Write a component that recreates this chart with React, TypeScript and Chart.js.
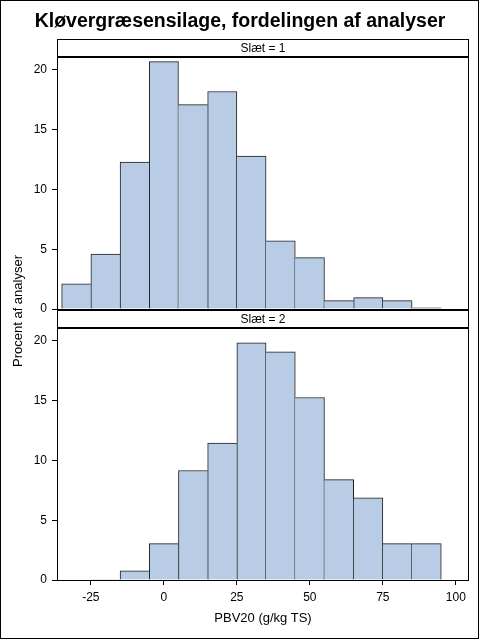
import React, { useEffect, useRef } from "react";
import { Chart, registerables } from "chart.js";

Chart.register(...registerables);

// ---- data ----
const binCenters = [-30, -20, -10, 0, 10, 20, 30, 40, 50, 60, 70, 80, 90];
const slaet1 = [2.1, 4.6, 12.3, 20.7, 17.1, 18.2, 12.8, 5.7, 4.3, 0.7, 0.95, 0.7, 0.1];
const slaet2 = [0, 0, 0.76, 3.05, 9.16, 11.45, 19.85, 19.08, 15.27, 8.4, 6.87, 3.05, 3.05];
const xTicks = [-25, 0, 25, 50, 75, 100];
const yTicks = [0, 5, 10, 15, 20];
const panelLabels = ["Slæt = 1", "Slæt = 2"];
const titleText = "Kløvergræsensilage, fordelingen af analyser";
const xTitle = "PBV20 (g/kg TS)";
const yTitle = "Procent af analyser";
const X_MIN = -36.6;
const X_MAX = 104.5;
const Y_MAX = 21;

const FONT = '"Liberation Sans", Arial, Helvetica, sans-serif';
const FILL = "rgb(184,205,229)";
const EDGE = "#1e1e1e";

function edgeWidths(vals: number[]) {
  return (ctx: any) => {
    const i = ctx.dataIndex;
    const v = vals[i];
    const prev = i > 0 ? vals[i - 1] : -1;
    const next = i < vals.length - 1 ? vals[i + 1] : -1;
    return { top: 1, bottom: 0, left: v > prev ? 1 : 0, right: v >= next ? 1 : 0 };
  };
}

function makeConfig(vals: number[], showX: boolean, padTop: number, padBottom: number): any {
  const xScale: any = {
    type: "linear",
    min: X_MIN,
    max: X_MAX,
    offset: false,
    display: showX,
    grid: { display: true, drawOnChartArea: false, drawTicks: true, tickLength: 5, color: "#000", offset: false },
    border: { display: false },
    ticks: { font: { family: FONT, size: 12 }, color: "#000", padding: 5, autoSkip: false, maxRotation: 0 },
    afterBuildTicks: (s: any) => {
      s.ticks = xTicks.map((v) => ({ value: v }));
    },
  };
  if (showX) {
    xScale.afterFit = (s: any) => {
      s.height = 60;
      s.paddingLeft = 0;
      s.paddingRight = 0;
    };
  }
  return {
    type: "bar",
    data: {
      datasets: [
        {
          data: binCenters.map((x, i) => ({ x, y: vals[i] })),
          backgroundColor: FILL,
          borderColor: EDGE,
          borderWidth: edgeWidths(vals),
          borderSkipped: false,
          barPercentage: 1,
          categoryPercentage: 1,
          grouped: false,
        },
      ],
    },
    options: {
      responsive: false,
      animation: false,
      devicePixelRatio: 1,
      layout: { padding: { top: padTop, right: 11, bottom: padBottom, left: 0 } },
      plugins: { legend: { display: false }, tooltip: { enabled: false }, title: { display: false } },
      scales: {
        x: xScale,
        y: {
          type: "linear",
          min: 0,
          max: Y_MAX,
          grid: { drawOnChartArea: false, drawTicks: true, tickLength: 5, color: "#000" },
          border: { display: false },
          ticks: { font: { family: FONT, size: 12 }, color: "#000", padding: 5 },
          afterBuildTicks: (s: any) => {
            s.ticks = yTicks.map((v) => ({ value: v }));
          },
          afterFit: (s: any) => {
            s.width = 57;
            s.paddingTop = 0;
            s.paddingBottom = 0;
          },
        },
      },
    },
  };
}

function Panel(props: { vals: number[]; showX: boolean; top: number; height: number; padTop: number; padBottom: number }) {
  const ref = useRef<HTMLCanvasElement | null>(null);
  useEffect(() => {
    if (!ref.current) return;
    const chart = new Chart(ref.current, makeConfig(props.vals, props.showX, props.padTop, props.padBottom));
    return () => chart.destroy();
  }, []);
  return (
    <canvas
      ref={ref}
      width={480}
      height={props.height}
      style={{ position: "absolute", left: 0, top: props.top, width: 480, height: props.height }}
    />
  );
}

function Line(p: { x: number; y: number; w: number; h: number }) {
  return <div style={{ position: "absolute", left: p.x, top: p.y, width: p.w, height: p.h, background: "#000" }} />;
}

function Header(p: { top: number; text: string }) {
  return (
    <div
      style={{
        position: "absolute",
        left: 58,
        top: p.top,
        width: 410,
        height: 16,
        lineHeight: "16px",
        textAlign: "center",
        fontFamily: FONT,
        fontSize: 12,
        color: "#000",
        whiteSpace: "nowrap",
      }}
    >
      {p.text}
    </div>
  );
}

export default function App() {
  return (
    <div style={{ position: "absolute", left: 0, top: 0, width: 480, height: 640, background: "#fff", overflow: "hidden" }}>
      <Panel vals={slaet1} showX={false} top={40} height={280} padTop={18} padBottom={11} />
      <Panel vals={slaet2} showX={true} top={320} height={320} padTop={9} padBottom={0} />
      <div
        style={{
          position: "absolute",
          left: 0,
          top: 0,
          width: 479,
          height: 639,
          border: "1px solid #000",
          boxSizing: "border-box",
        }}
      />
      <div
        style={{
          position: "absolute",
          left: 0,
          top: 8,
          width: 480,
          height: 24,
          lineHeight: "24px",
          textAlign: "center",
          fontFamily: FONT,
          fontWeight: "bold",
          fontSize: 19.5,
          color: "#000",
          whiteSpace: "nowrap",
        }}
      >
        {titleText}
      </div>
      {/* panel frame */}
      <Line x={57} y={39} w={1} h={542} />
      <Line x={468} y={39} w={1} h={542} />
      <Line x={57} y={39} w={412} h={1} />
      <Line x={57} y={56} w={412} h={2} />
      <Line x={57} y={309} w={412} h={2} />
      <Line x={57} y={327} w={412} h={2} />
      <Line x={57} y={580} w={412} h={1} />
      <Header top={40} text={panelLabels[0]} />
      <Header top={311} text={panelLabels[1]} />
      <div
        style={{
          position: "absolute",
          left: 57,
          top: 610,
          width: 412,
          height: 16,
          lineHeight: "16px",
          textAlign: "center",
          fontFamily: FONT,
          fontSize: 13,
          color: "#000",
          whiteSpace: "nowrap",
        }}
      >
        {xTitle}
      </div>
      <div
        style={{
          position: "absolute",
          left: 18,
          top: 311,
          transform: "translate(-50%, -50%) rotate(-90deg)",
          lineHeight: "16px",
          fontFamily: FONT,
          fontSize: 13,
          color: "#000",
          whiteSpace: "nowrap",
        }}
      >
        {yTitle}
      </div>
    </div>
  );
}
